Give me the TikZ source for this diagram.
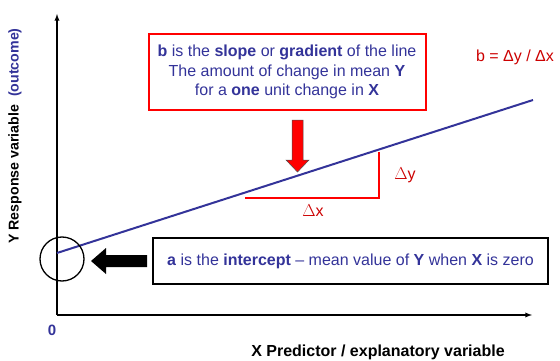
\documentclass[tikz,border=0pt]{standalone}
\usepackage{fontspec}
\setmainfont{Liberation Sans}
\usepackage{xcolor}
\usetikzlibrary{arrows,positioning}
\definecolor{navy}{RGB}{51,51,153}
\definecolor{darkred}{RGB}{204,0,0}

\begin{document}
\begin{tikzpicture}[x=1pt,y=-1pt,>=latex,font=\fontsize{16}{19.5}\selectfont]
  \useasboundingbox (0,0) rectangle (560,361);

  % axes
  \coordinate (O) at (57,315);
  \coordinate (ytop) at (57,14);
  \coordinate (xend) at (532,315);
  \draw[line width=1.3pt,->] (O) -- (ytop);
  \draw[line width=1.3pt,->] (O) -- (xend);

  \node[navy,font=\bfseries\fontsize{15}{17}\selectfont] (zero) at (52,330) {0};
  \node[font=\bfseries\fontsize{16}{19}\selectfont] (xlab) at (378,352) {X Predictor / explanatory variable};
  \node[rotate=90,font=\bfseries\fontsize{14.2}{16}\selectfont] (ylab) at (15,136) {Y Response variable \ {\color{navy}(outcome)}};

  % regression line
  \coordinate (start) at (57,253);
  \coordinate (end) at (533,100);
  \draw[navy,line width=2pt] (start) -- (end);

  % slope triangle
  \coordinate (dxL) at (245,198);
  \coordinate (corner) at (379,198);
  \coordinate (dyT) at (379,152);
  \draw[red,line width=2pt] (dxL) -- (corner) -- (dyT);
  \node[darkred] (dy) at (405,175) {$\Delta$y};
  \node[darkred] (dx) at (313,211) {$\Delta$x};
  \node[darkred] (bform) at (515,57) {b = Δy / Δx};

  % slope box and arrow
  \node[draw=red,line width=2pt,minimum width=277,minimum height=76,align=center,text=navy] (slopebox) at (287,72)
    {\textbf{b} is the \textbf{slope} or \textbf{gradient} of the line\\
     The amount of change in mean \textbf{Y}\\
     for a \textbf{one} unit change in \textbf{X}};
  \filldraw[fill=red,draw=gray!60!black,line width=0.5pt]
    (292,120) -- (303,120) -- (303,160) -- (309,160) -- (297.5,172) -- (286,160) -- (292,160) -- cycle;

  % intercept
  \node[circle,draw,line width=1.3pt,minimum size=44,inner sep=0pt] (icirc) at (62,259) {};
  \fill (147,255) -- (106,255) -- (106,248) -- (91,261) -- (106,274) -- (106,267) -- (147,267) -- cycle;
  \node[draw,line width=1.5pt,minimum width=395,minimum height=46,text=navy] (icptbox) at (350.5,261)
    {\textbf{a} is the \textbf{intercept} -- mean value of \textbf{Y} when \textbf{X} is zero};
\end{tikzpicture}
\end{document}
